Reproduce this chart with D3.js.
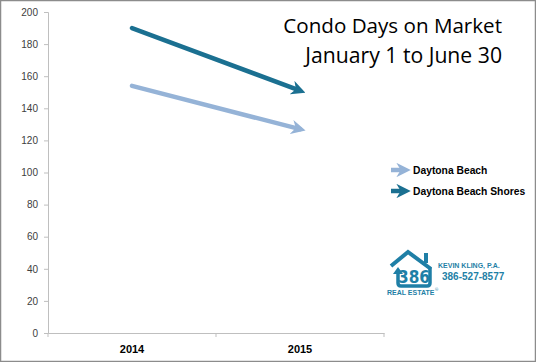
<!DOCTYPE html>
<html>
<head>
<meta charset="utf-8">
<script src="https://cdn.jsdelivr.net/npm/d3@7"></script>
<style>
body { margin: 0; background: #fff; }
svg { display: block; font-family: "Open Sans", "Liberation Sans", sans-serif; }
</style>
</head>
<body>
<div id="chart"></div>
<script>
// data
var years = ["2014", "2015"];
var seriesNames = ["Daytona Beach", "Daytona Beach Shores"];
var daytonaBeach = [154, 127];
var daytonaBeachShores = [190, 151];
var yTicks = [0, 20, 40, 60, 80, 100, 120, 140, 160, 180, 200];
var seriesColors = ["#95b3d7", "#1b7091"];

var width = 536, height = 362;
var margin = {top: 12, right: 152, bottom: 29, left: 48};

var svg = d3.select("#chart").append("svg")
    .attr("width", width)
    .attr("height", height);

// frame
svg.append("rect")
    .attr("x", 0.5).attr("y", 0.5)
    .attr("width", width - 1).attr("height", height - 1)
    .attr("fill", "#fff").attr("stroke", "#8c8c8c").attr("stroke-width", 1.5);

var x = d3.scaleBand().domain(years).range([margin.left, width - margin.right]);
var y = d3.scaleLinear().domain([0, 200]).range([height - margin.bottom, margin.top]);

// y axis
var yAxis = svg.append("g")
    .attr("transform", "translate(" + margin.left + ",0)")
    .call(d3.axisLeft(y).tickValues(yTicks).tickSize(4).tickPadding(6));
yAxis.select(".domain").attr("stroke", "#bfbfbf");
yAxis.selectAll(".tick line").attr("stroke", "#bfbfbf");
yAxis.selectAll("text").attr("fill", "#404040").style("font-size", "10px")
    .style("font-family", "'Liberation Sans', Arial, sans-serif");

// x axis
var xAxis = svg.append("g")
    .attr("transform", "translate(0," + y(0) + ")")
    .call(d3.axisBottom(x).tickSize(0).tickPadding(12));
xAxis.select(".domain").attr("stroke", "#bfbfbf");
xAxis.selectAll("text").attr("fill", "#000").style("font-size", "11px").style("font-weight", "bold")
    .style("font-family", "'Liberation Sans', Arial, sans-serif");
// category boundary ticks
var bounds = [x.range()[0], x("2015"), x.range()[1]];
xAxis.selectAll(".bound").data(bounds).enter().append("line")
    .attr("x1", function(d) { return d; }).attr("x2", function(d) { return d; })
    .attr("y1", 0).attr("y2", 4).attr("stroke", "#bfbfbf");

// arrow markers
var defs = svg.append("defs");
seriesColors.forEach(function(c, i) {
  defs.append("marker")
      .attr("id", "arrow" + i)
      .attr("viewBox", "0 0 10 10")
      .attr("refX", 6).attr("refY", 5)
      .attr("markerWidth", 3.2).attr("markerHeight", 3.2)
      .attr("orient", "auto")
    .append("path")
      .attr("d", "M0,0 L10,5 L0,10 L3,5 Z")
      .attr("fill", c);
});

var series = [daytonaBeach, daytonaBeachShores];
var line = d3.line()
    .x(function(d, i) { return x(years[i]) + x.bandwidth() / 2; })
    .y(function(d) { return y(d); });

svg.selectAll(".series").data(series).enter().append("path")
    .attr("class", "series")
    .attr("d", line)
    .attr("fill", "none")
    .attr("stroke", function(d, i) { return seriesColors[i]; })
    .attr("stroke-width", 4.5)
    .attr("stroke-linecap", "round")
    .attr("marker-end", function(d, i) { return "url(#arrow" + i + ")"; });

// title
var title = svg.append("text")
    .attr("text-anchor", "end")
    .attr("fill", "#000")
    .style("font-size", "20.6px")
    .style("font-family", "'Open Sans', sans-serif");
title.append("tspan").attr("x", 502).attr("y", 33).text("Condo Days on Market");
title.append("tspan").attr("x", 502).attr("y", 63).style("font-size", "21.2px").text("January 1 to June 30");

// legend
var legend = svg.selectAll(".legend").data(seriesNames).enter().append("g")
    .attr("class", "legend")
    .attr("transform", function(d, i) { return "translate(390," + (170 + i * 21) + ")"; });
legend.append("line")
    .attr("x1", 1).attr("x2", 15).attr("y1", 0).attr("y2", 0)
    .attr("stroke", function(d, i) { return seriesColors[i]; })
    .attr("stroke-width", 4.5)
    .attr("marker-end", function(d, i) { return "url(#arrow" + i + ")"; });
legend.append("text")
    .attr("x", 23).attr("y", 4)
    .style("font-size", "10.3px").style("font-weight", "bold")
    .style("font-family", "'Liberation Sans', Arial, sans-serif")
    .attr("fill", "#000")
    .text(function(d) { return d; });

// logo
var logoColor = "#1f7fa6";
var logo = svg.append("g").attr("transform", "translate(385,240)");
// roof
logo.append("path")
    .attr("d", "M6,26 L23,12 L46,29")
    .attr("fill", "none").attr("stroke", logoColor).attr("stroke-width", 4)
    .attr("stroke-linejoin", "miter");
// chimney
logo.append("rect").attr("x", 39).attr("y", 13).attr("width", 4).attr("height", 10).attr("fill", logoColor);
// walls
logo.append("path")
    .attr("d", "M13,33 L13,43 Q13,46 16,46 L42,46 Q45,46 45,43 L45,28")
    .attr("fill", "none").attr("stroke", logoColor).attr("stroke-width", 3.5);
// up arrow on left wall
logo.append("path")
    .attr("d", "M8,34 L13,27 L18,34 Z")
    .attr("fill", logoColor);
logo.append("text").attr("x", 29).attr("y", 43).attr("text-anchor", "middle")
    .style("font-size", "17px").style("font-weight", "bold")
    .style("font-family", "'Liberation Sans Narrow', 'DejaVu Sans Condensed', sans-serif")
    .attr("fill", logoColor).text("386");
logo.append("text").attr("x", 2).attr("y", 55)
    .style("font-size", "7px").style("font-weight", "bold")
    .style("font-family", "'Liberation Sans', Arial, sans-serif")
    .attr("fill", logoColor).text("REAL ESTATE");
logo.append("text").attr("x", 50).attr("y", 51)
    .style("font-size", "4px")
    .attr("fill", logoColor).text("\u00ae");
logo.append("text").attr("x", 53).attr("y", 28)
    .style("font-size", "7px").style("font-weight", "bold")
    .style("font-family", "'Liberation Sans', Arial, sans-serif")
    .attr("fill", logoColor).text("KEVIN KLING, P.A.");
logo.append("text").attr("x", 57).attr("y", 40)
    .style("font-size", "10px").style("font-weight", "bold")
    .style("font-family", "'Liberation Sans Narrow', 'Liberation Sans', sans-serif")
    .attr("fill", logoColor).text("386-527-8577");
</script>
</body>
</html>
